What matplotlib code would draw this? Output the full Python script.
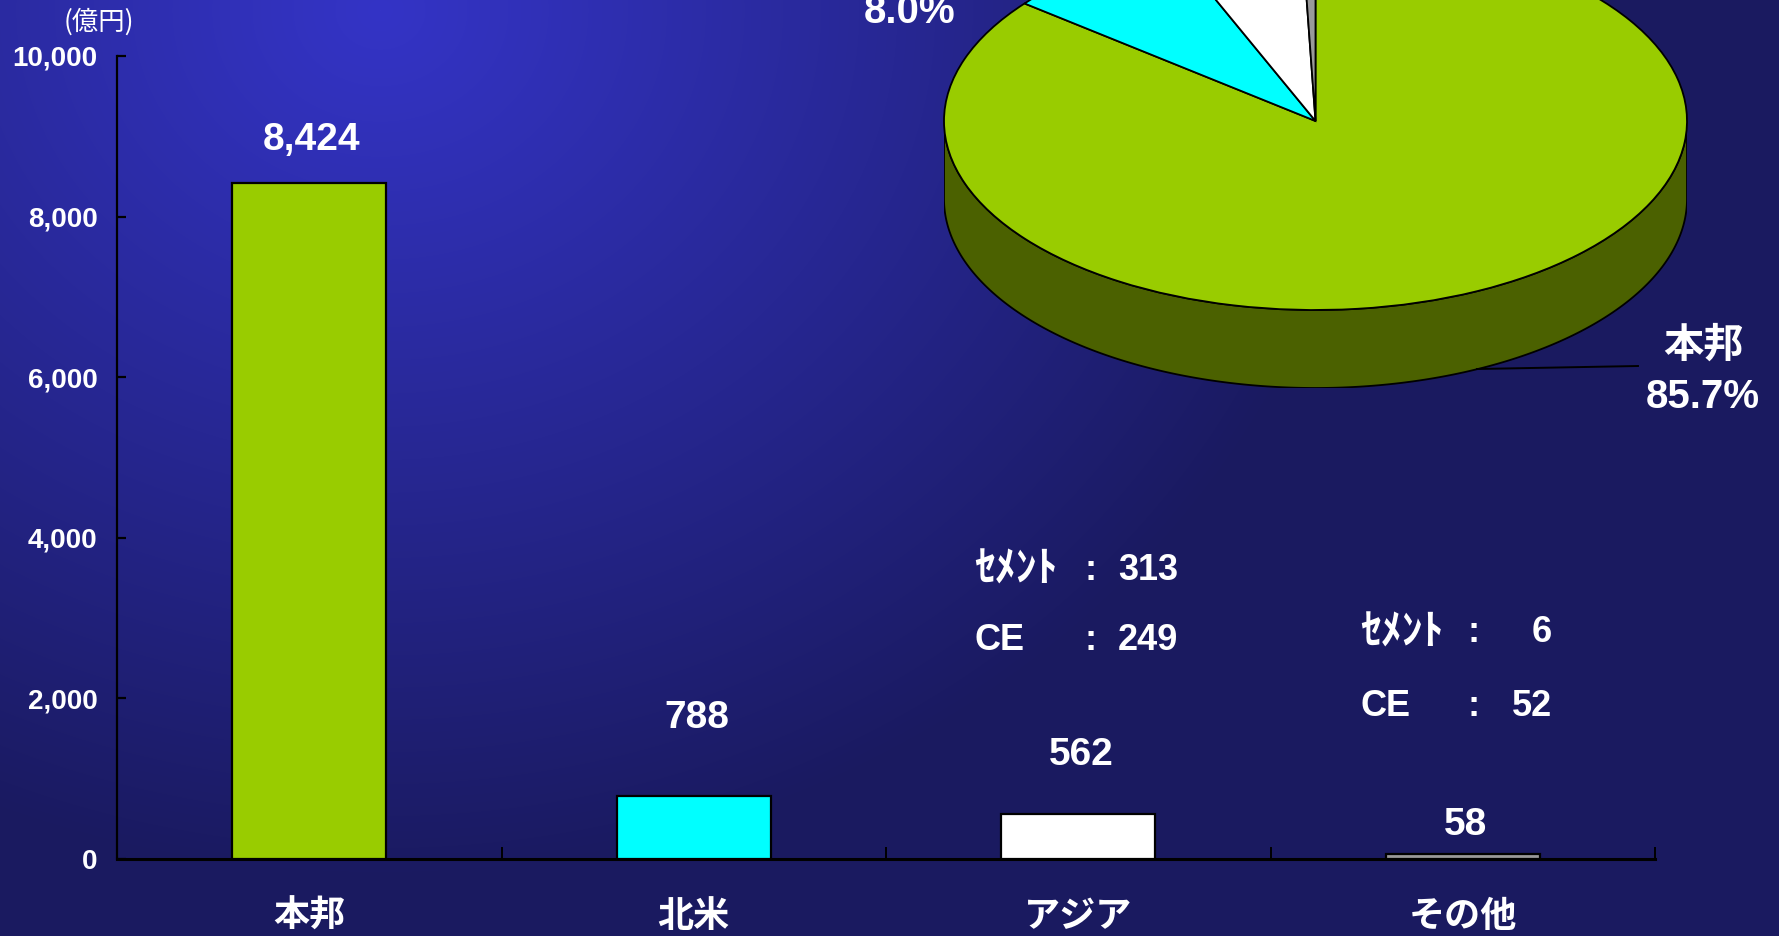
import numpy as np
import matplotlib
matplotlib.use('Agg')
import matplotlib.pyplot as plt
from matplotlib import font_manager

# ---------------- data ----------------
categories = ['本邦', '北米', 'アジア', 'その他']
values = [8424, 788, 562, 58]
value_labels = ['8,424', '788', '562', '58']
yticks = [0, 2000, 4000, 6000, 8000, 10000]
ytick_labels = ['0', '2,000', '4,000', '6,000', '8,000', '10,000']
unit_label = '(億円)'
asia_breakdown = [('ｾﾒﾝﾄ', '313'), ('CE', '249')]
other_breakdown = [('ｾﾒﾝﾄ', '6'), ('CE', '52')]
pie_visible_labels = {0: '本邦', 1: '北米'}

# ---------------- style ----------------
bar_colors = ['#99CC00', '#00FFFF', '#FFFFFF', '#999999']
side_color = '#4B6100'
label_offsets_px = [43, 78, 59, 29]

names = {f.name for f in font_manager.fontManager.ttflist}
LATIN = 'Liberation Sans'
CJK = 'Noto Sans CJK JP'
if 'Liberation Sans Narrow' in names:
    NUM, NUM_SCALE = 'Liberation Sans Narrow', 1.2
else:
    NUM, NUM_SCALE = LATIN, 1.0

W, H = 1779, 936
fig = plt.figure(figsize=(W / 100, H / 100), dpi=100)

# background radial gradient
bg = fig.add_axes([0, 0, 1, 1], zorder=-10)
yy, xx = np.mgrid[0:H, 0:W]
r = np.hypot(xx - 380, (yy - 10) * 1.15)
t = np.clip(r / 1000, 0, 1) ** 1.05
c0 = np.array([52, 52, 198]) / 255
c1 = np.array([26, 26, 96]) / 255
img = c0[None, None, :] * (1 - t[..., None]) + c1[None, None, :] * t[..., None]
bg.imshow(img, extent=(0, W, H, 0), aspect='auto')
bg.set_xlim(0, W)
bg.set_ylim(H, 0)
bg.axis('off')


def fx(x):
    return x / W


def fy(y):
    return 1 - y / H


# ---------------- bar chart ----------------
ax = fig.add_axes([fx(117), fy(859), (1655 - 117) / W, (859 - 56) / H])
ax.set_facecolor('none')
x = np.arange(len(categories))
ax.bar(x, values, width=0.40, color=bar_colors, edgecolor='black', linewidth=1.6, zorder=3)
ax.set_xlim(-0.5, len(categories) - 0.5)
ax.set_ylim(0, 10000)
for sp in ['top', 'right']:
    ax.spines[sp].set_visible(False)
ax.spines['left'].set_linewidth(1.6)
ax.spines['bottom'].set_linewidth(2.2)
ax.spines['left'].set_color('black')
ax.spines['bottom'].set_color('black')

ax.set_yticks(yticks)
ax.set_yticklabels(ytick_labels, fontfamily=NUM, fontweight='bold', fontsize=20 * NUM_SCALE, color='white')
ax.tick_params(axis='y', direction='in', length=6.5, width=1.6, color='black', pad=14)

ax.set_xticks(x)
ax.set_xticklabels(categories, fontfamily=CJK, fontweight='bold', fontsize=26, color='white')
ax.tick_params(axis='x', which='major', length=0, pad=28)
ax.set_xticks(np.arange(len(categories) + 1) - 0.5, minor=True)
ax.tick_params(axis='x', which='minor', direction='in', length=8.6, width=1.4, color='black')

for i, (v, lab) in enumerate(zip(values, value_labels)):
    ax.annotate(lab, (i, v), xytext=(2, label_offsets_px[i] * 0.72), textcoords='offset points',
                ha='center', va='center', fontfamily=NUM, fontweight='bold',
                fontsize=28 * NUM_SCALE, color='white')

# ---------------- 3D pie ----------------
depth = 78 / 189
pax = fig.add_axes([fx(944), fy(388), 743 / W, (388 + 68) / H], zorder=2)
tt = np.linspace(np.pi, 2 * np.pi, 300)
side_x = np.concatenate([np.cos(tt), np.cos(tt[::-1])])
side_y = np.concatenate([np.sin(tt), np.sin(tt[::-1]) - depth])
pax.fill(side_x, side_y, facecolor=side_color, edgecolor='black', linewidth=1.3, zorder=1)
wedges, _ = pax.pie(values, colors=bar_colors, startangle=90, counterclock=False,
                    wedgeprops=dict(edgecolor='black', linewidth=1.3), radius=1)
for w in wedges:
    w.set_zorder(2)
pax.set_aspect('auto')
pax.set_xlim(-1, 1)
pax.set_ylim(-1 - depth, 1)
pax.axis('off')

# ---------------- overlay texts ----------------
ov = fig.add_axes([0, 0, 1, 1], zorder=10)
ov.set_xlim(0, W)
ov.set_ylim(H, 0)
ov.axis('off')
ov.patch.set_alpha(0)

total = sum(values)
pcts = [f'{v / total * 100:.1f}%' for v in values]

ov.text(99, 22, unit_label, ha='center', va='center', fontfamily=CJK, fontsize=19, color='white')

# pie labels
ov.text(1703, 345, pie_visible_labels[0], ha='center', va='center', fontfamily=CJK,
        fontweight='bold', fontsize=29, color='white')
ov.text(1703, 397, pcts[0], ha='center', va='center', fontfamily=LATIN,
        fontweight='bold', fontsize=29, color='white')
ov.text(910, 23, pcts[1], ha='center', va='baseline', fontfamily=LATIN,
        fontweight='bold', fontsize=29, color='white')
ov.plot([1477, 1638], [369, 366], color='black', linewidth=1.4)


# breakdown blocks
def block(items, x_label, x_colon, x_value, ys):
    for (name, val), yv in zip(items, ys):
        fam = LATIN if name.isascii() else CJK
        ov.text(x_label, yv, name, ha='left', va='center', fontfamily=fam, fontweight='bold',
                fontsize=26 if fam == LATIN else 30, color='white')
        ov.text(x_colon, yv, ':', ha='center', va='center', fontfamily=LATIN, fontweight='bold',
                fontsize=26, color='white')
        ov.text(x_value, yv, val, ha='right', va='center', fontfamily=NUM, fontweight='bold',
                fontsize=26 * NUM_SCALE, color='white')


block(asia_breakdown, 974, 1091, 1178, [570, 641])
block(other_breakdown, 1360, 1474, 1552, [633, 706])

fig.savefig('out.png', dpi=100)
